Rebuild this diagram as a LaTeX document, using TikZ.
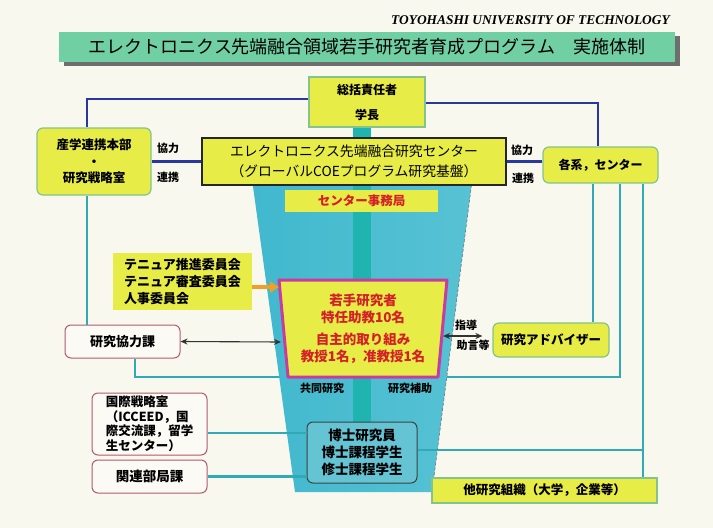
\documentclass[tikz,border=0pt]{standalone}
\usepackage{fontspec}
\setmainfont{Noto Sans CJK JP}
\newfontfamily\serifbi{Liberation Serif}
\usetikzlibrary{arrows.meta}
\definecolor{bg}{RGB}{248,248,238}
\definecolor{ylw}{RGB}{232,236,70}
\definecolor{ylwborder}{RGB}{130,196,140}
\definecolor{mint}{RGB}{112,208,164}
\definecolor{shadowgray}{RGB}{110,110,110}
\definecolor{tealline}{RGB}{48,170,180}
\definecolor{blueline}{RGB}{40,56,160}
\definecolor{redtext}{RGB}{212,32,40}
\definecolor{magentab}{RGB}{200,60,160}
\definecolor{pinkb}{RGB}{176,90,110}
\definecolor{whitebox}{RGB}{252,250,244}
\definecolor{funnelA}{RGB}{64,184,206}
\definecolor{funnelB}{RGB}{150,216,230}
\definecolor{funnelC}{RGB}{88,194,212}
\definecolor{strip}{RGB}{32,180,176}
\definecolor{hakasefill}{RGB}{100,196,212}
\definecolor{orangeA}{RGB}{240,160,40}
\pgfdeclarelayer{back}
\pgfdeclarelayer{funnel}
\pgfsetlayers{back,funnel,main}
\begin{document}
\begin{tikzpicture}[x=1pt,y=-1pt,
  ybox/.style={draw=ylwborder, line width=1.2pt, fill=ylw, rounded corners=6pt, inner sep=0pt, align=center},
  yrect/.style={draw=ylwborder, line width=1.2pt, fill=ylw, inner sep=0pt, align=center},
  wbox/.style={draw=pinkb, line width=1pt, fill=whitebox, rounded corners=6pt, inner sep=0pt, align=center},
  lbl/.style={font=\bfseries\fontsize{11}{13}\selectfont, inner sep=0pt},
  tline/.style={draw=tealline, line width=2.2pt},
  bline/.style={draw=blueline, line width=2.6pt},
  darrow/.style={draw=black!80, line width=1.1pt, {Stealth[length=7pt,width=6pt]}-{Stealth[length=7pt,width=6pt]}}
]
\path[use as bounding box] (0,0) rectangle (713,528);

% ---------- nodes ----------
\node[anchor=east, font=\serifbi\bfseries\itshape\fontsize{13.4}{15}\selectfont, inner sep=0pt] (univ) at (670,20) {TOYOHASHI UNIVERSITY OF TECHNOLOGY};
\fill[shadowgray] (64,36) rectangle (680,66);
\node[fill=mint, minimum width=616, minimum height=30, inner sep=0pt, font=\fontsize{18}{20}\selectfont] (title) at (367,47) {エレクトロニクス先端融合領域若手研究者育成プログラム　実施体制};

% pink box polygon
\coordinate (pinkTL) at (279,280);
\coordinate (pinkTR) at (447,280);
\coordinate (pinkBR) at (438,377);
\coordinate (pinkBL) at (288,377);
\coordinate (pinkL) at (281,342);
\coordinate (pinkLo) at (279,287);
\coordinate (pinkR) at (443,336);
\draw[magentab, line width=3pt, fill=ylw, line join=round] (pinkTL) -- (pinkTR) -- (pinkBR) -- (pinkBL) -- cycle;
\node[align=center, text=redtext, font=\bfseries\fontsize{13.5}{17}\selectfont, inner sep=0pt] (young) at (363,328.5) {若手研究者\\特任助教10名\\[5pt]自主的取り組み\\教授1名，准教授1名};

\node[yrect, minimum width=116, minimum height=50, font=\bfseries\fontsize{12}{25}\selectfont] (sokatsu) at (367,102) {総括責任者\\学長};
\node[ybox, minimum width=114, minimum height=67, font=\bfseries\fontsize{12.5}{16.5}\selectfont] (sangaku) at (94,161.5) {産学連携本部\\・\\研究戦略室};
\node[draw=black!85, line width=2.4pt, fill=ylw, minimum width=304, minimum height=47, inner sep=0pt, align=center, font=\fontsize{13.8}{20}\selectfont] (center) at (354,161.5) {エレクトロニクス先端融合研究センター\\（グローバルCOEプログラム研究基盤）};
\node[ybox, minimum width=115, minimum height=36, font=\bfseries\fontsize{12}{14}\selectfont] (kakkei) at (600.5,165) {各系，センター};
\node[fill=ylw, minimum width=153, minimum height=22, inner sep=0pt, text=redtext, font=\bfseries\fontsize{12.5}{14}\selectfont] (jimu) at (361.5,201) {センター事務局};
\node[fill=ylw, minimum width=139, minimum height=57, inner sep=0pt, align=left, font=\bfseries\fontsize{13}{17}\selectfont] (tenure) at (182.5,281.5) {テニュア推進委員会\\テニュア審査委員会\\人事委員会};
\node[wbox, minimum width=115, minimum height=33, font=\bfseries\fontsize{13}{15}\selectfont] (kyoryoku) at (122.5,341.5) {研究協力課};
\node[wbox, minimum width=115, minimum height=62, align=left, font=\bfseries\fontsize{12.5}{14.5}\selectfont] (kokusai) at (149.5,424) {国際戦略室\\（ICCEED，国\\際交流課，留学\\生センター）};
\node[wbox, minimum width=115, minimum height=33, font=\bfseries\fontsize{13.5}{15}\selectfont] (kanren) at (149.5,476.5) {関連部局課};
\node[draw=black!75, line width=1pt, fill=hakasefill, rounded corners=6pt, minimum width=110, minimum height=61, inner sep=0pt, align=center, font=\bfseries\fontsize{13.5}{17}\selectfont] (hakase) at (362,452.5) {博士研究員\\博士課程学生\\修士課程学生};
\node[ybox, minimum width=116, minimum height=34, font=\bfseries\fontsize{12.5}{14}\selectfont] (adviser) at (551,340) {研究アドバイザー};
\node[yrect, minimum width=225, minimum height=25, font=\bfseries\fontsize{12.5}{14}\selectfont] (other) at (544.5,490.5) {他研究組織（大学，企業等）};

% labels
\node[lbl] (kyoL) at (168,148.5) {協力};
\node[lbl] (renL) at (168,177) {連携};
\node[lbl] (kyoR) at (522,150) {協力};
\node[lbl] (renR) at (523,178) {連携};
\node[lbl] (shido) at (466,325) {指導};
\node[lbl] (jogen) at (473,345) {助言等};
\node[lbl] (kyodo) at (322,388) {共同研究};
\node[lbl] (hojo) at (410,388) {研究補助};

% ---------- background + lines hidden by funnel ----------
\begin{pgfonlayer}{back}
\fill[bg] (0,0) rectangle (713,528);
\coordinate (k1) at ([xshift=-7.5pt]kakkei.south);
\coordinate (k2) at ([xshift=19.5pt]kakkei.south);
\coordinate (k3) at ([xshift=42.5pt]kakkei.south);
\coordinate (kb) at ([xshift=12.5pt]kyoryoku.south);
\draw[tline] (kb) |- (pinkBL);
\draw[tline] (k2) |- (pinkBR);
\end{pgfonlayer}

% ---------- funnel ----------
\begin{pgfonlayer}{funnel}
\coordinate (fTL) at (248,150);
\coordinate (fTR) at (476,150);
\coordinate (fBR) at (432,492);
\coordinate (fBL) at (295,492);
\shade[left color=funnelA, middle color=funnelB, right color=funnelC] (fTL) -- (fTR) -- (fBR) -- (fBL) -- cycle;
\draw[black!55, line width=0.6pt, densely dashed] (fTR) -- (fBR);
\fill[strip] (353,127) rectangle (371,422);
\end{pgfonlayer}

% ---------- connectors ----------
\draw[bline] ([yshift=3pt]sokatsu.west) -| ([xshift=-7pt]sangaku.north);
\draw[bline] ([yshift=-1pt]sokatsu.east) -| ([xshift=-2.5pt]kakkei.north);
\draw[bline] (sangaku.east) -- (center.west);
\draw[bline] (center.east) -- (center.east -| kakkei.west);
\draw[tline] ([xshift=-7pt]sangaku.south) -- ([xshift=-7pt]sangaku.south |- kyoryoku.north);
\draw[tline] (k1) -- (k1 |- adviser.north);
\draw[tline] (k3) -- (k3 |- other.north);
\draw[tline] ([yshift=-9pt]kokusai.east) -- ([yshift=-9pt]kokusai.east -| hakase.west);
\draw[tline] (kanren.east) -- (kanren.east -| hakase.west);
\draw[tline] ([yshift=2.5pt]hakase.east) -- ([yshift=2.5pt]hakase.east -| k3);
\draw[darrow] (kyoryoku.east) -- (pinkL);
\draw[darrow, shorten >=10pt] (pinkR) -- (pinkR -| adviser.west);
\draw[orangeA, line width=4pt, -{Triangle[length=9pt,width=11pt]}] ([yshift=-5.5pt]tenure.east) -- (pinkLo);
\end{tikzpicture}
\end{document}
